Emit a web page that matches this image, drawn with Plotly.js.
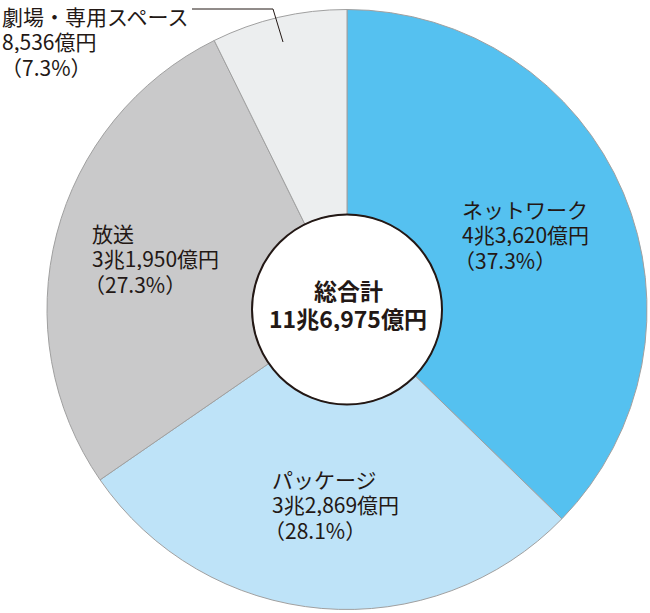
<!DOCTYPE html>
<html>
<head>
<meta charset="utf-8">
<script src="https://cdn.plot.ly/plotly-3.0.1.min.js"></script>
<style>html,body{margin:0;padding:0;background:#fff;}#chart{width:650px;height:613px;}</style>
</head>
<body>
<div id="chart"></div>
<script>
const categories = ["ネットワーク", "パッケージ", "放送", "劇場・専用スペース"];
const amounts = ["4兆3,620億円", "3兆2,869億円", "3兆1,950億円", "8,536億円"];
const values = [43620, 32869, 31950, 8536];
const shares = ["37.3%", "28.1%", "27.3%", "7.3%"];
const colors = ["#55C1F0", "#BEE3F8", "#C9C9CA", "#ECEEEF"];
const totalLabel = "総合計";
const totalAmount = "11兆6,975億円";

const W = 650, H = 613;
const px = x => x / W;
const py = y => 1 - y / H;

// pie geometry (pixels)
const cx = 347, cy = 309.5, R = 300, holeR = 95;

const fam = "Noto Sans CJK JP, Noto Sans, sans-serif";
const font = {family: fam, size: 21, color: "#231815"};

// left x and first-line centre y of each label block, line step
const labelPos = [
  [461, 208], [271, 478], [91, 232], [1, 15]
];
const step = 25.5;

const annotations = [];
categories.forEach((c, i) => {
  const lines = [c, amounts[i], "（" + shares[i] + "）"];
  lines.forEach((t, k) => {
    const x0 = Math.max(0, labelPos[i][0] - (k === 2 ? 8 : 0));
    annotations.push({
      text: t, height: 25, borderpad: 0,
      x: px(x0), y: py(labelPos[i][1] + k * step),
      xref: "paper", yref: "paper", xanchor: "left", yanchor: "middle",
      align: "left", valign: "middle", showarrow: false, font: font
    });
  });
});
[totalLabel, totalAmount].forEach((t, k) => {
  annotations.push({
    text: "<b>" + t + "</b>", height: 27, borderpad: 0,
    x: px(cx + 1), y: py(289 + k * 28), xref: "paper", yref: "paper",
    xanchor: "center", yanchor: "middle", align: "center", valign: "middle", showarrow: false,
    font: {family: fam, size: 23, color: "#231815"}
  });
});

const data = [{
  type: "pie",
  labels: categories,
  values: values,
  sort: false,
  direction: "clockwise",
  rotation: 0,
  hole: holeR / R,
  textinfo: "none",
  hoverinfo: "none",
  marker: {colors: colors, line: {color: "#A0A0A0", width: 1}},
  domain: {x: [px(cx - R), px(cx + R)], y: [py(cy + R), py(cy - R)]},
  showlegend: false
}];

const layout = {
  width: W, height: H,
  margin: {l: 0, r: 0, t: 0, b: 0},
  paper_bgcolor: "#fff",
  showlegend: false,
  annotations: annotations,
  shapes: [
    {type: "circle", xref: "paper", yref: "paper",
     x0: px(cx - holeR), x1: px(cx + holeR), y0: py(cy + holeR), y1: py(cy - holeR),
     line: {color: "#231815", width: 2}, fillcolor: "rgba(0,0,0,0)", layer: "above"},
    {type: "path", xref: "paper", yref: "paper",
     path: "M " + px(192) + " " + py(9) + " L " + px(273) + " " + py(9) + " L " + px(283) + " " + py(42),
     line: {color: "#231815", width: 1}}
  ]
};

Plotly.newPlot("chart", data, layout, {staticPlot: true});
</script>
</body>
</html>
